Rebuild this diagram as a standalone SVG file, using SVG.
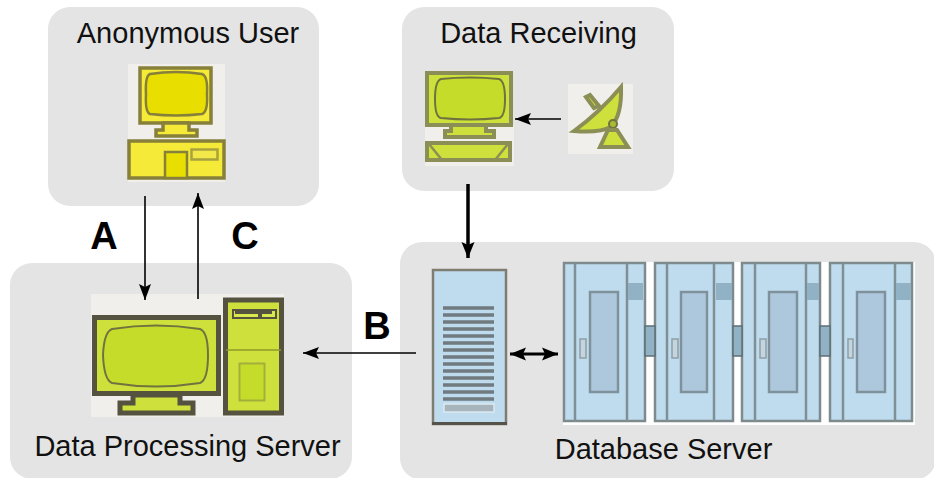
<svg xmlns="http://www.w3.org/2000/svg" width="934" height="478" viewBox="0 0 934 478">
<defs>
<marker id="ah" markerWidth="17" markerHeight="13" refX="16" refY="6.500" orient="auto-start-reverse" markerUnits="userSpaceOnUse"><path d="M0 0.500L16 6.500L0 12.500L3 6.500Z" fill="#000"/></marker>
<marker id="ahb" markerWidth="17" markerHeight="14" refX="16" refY="7" orient="auto-start-reverse" markerUnits="userSpaceOnUse"><path d="M0 0.500L16 7L0 13.500L3 7Z" fill="#000"/></marker>
<filter id="soft" x="-5%" y="-5%" width="110%" height="110%"><feGaussianBlur stdDeviation="0.7"/></filter>
</defs>
<style>
.panel{fill:#e4e4e4}
.t{font-family:"Liberation Sans",Arial,sans-serif;font-size:29px;fill:#111;text-anchor:middle}
.b{font-family:"Liberation Sans",Arial,sans-serif;font-size:38px;font-weight:700;fill:#000;text-anchor:middle}
.bg{fill:#f0efec}
.yl{fill:#f5ea38;stroke:#86803a;stroke-width:3.500}
.ys{fill:#e8de00;stroke:#86803a;stroke-width:2.500}
.gl{fill:#cde03a;stroke:#8c8f55;stroke-width:4}
.gs{fill:#c6dc2c;stroke:#6f7340;stroke-width:2}
.dk{fill:#cde03a;stroke:#55523f;stroke-width:5}
.c{fill:none;stroke:#000;stroke-width:1.600}
.cb{fill:#bfdcef;stroke:#7f8a8c;stroke-width:2.500}
.cl{fill:none;stroke:#7f8f96;stroke-width:2.500}
.ac{fill:#90b2c4}
.win{fill:#adc7dc;stroke:#7f929c;stroke-width:2.500}
.hd{fill:#c5d5df;stroke:#8f9ea6;stroke-width:1.500}
</style>
<g id="anonymous-user">
<rect class="panel" x="48" y="7" width="271" height="199" rx="22"/>
<g filter="url(#soft)">
<rect class="bg" x="128" y="64" width="97" height="118"/>
<rect class="yl" x="140" y="68" width="71" height="55"/>
<path class="ys" d="M150 74Q176 70 202 74Q208 76 207 94Q208 112 202 114Q176 117 150 114Q145 112 146 94Q145 76 150 74Z"/>
<path class="yl" d="M163 123H189V130H197V136H156V130H163Z"/>
<rect class="yl" x="129" y="141" width="95" height="37"/>
<rect class="ys" x="165" y="152" width="22" height="26"/>
<rect x="191.500" y="149.500" width="26" height="10" fill="#f2e84a" stroke="#a8a23e" stroke-width="2.500"/>
</g>
<text class="t" x="188" y="43">Anonymous User</text>
</g>
<g id="data-receiving">
<rect class="panel" x="402" y="7" width="272" height="184" rx="22"/>
<g filter="url(#soft)">
<rect class="bg" x="425" y="125" width="89" height="41"/>
<rect class="gl" x="427" y="73" width="84" height="52"/>
<path class="gs" d="M441 79Q470 76 499 79Q505 81 505 99Q505 117 499 118Q470 121 441 118Q435 117 435 99Q435 81 441 79Z"/>
<path class="gl" d="M451 125H486V131H494V137H445V131H451Z"/>
<rect class="gl" x="427" y="143" width="83" height="17"/>
<path d="M429 144L442 160M508 144L495 160" fill="none" stroke="#8c8f55" stroke-width="2.500"/>
<rect class="bg" x="568" y="84" width="65" height="70"/>
<path class="gl" d="M621 87Q622 115 611 127Q600 133 574 131Q600 112 621 87Z" stroke-width="3"/>
<path class="gl" d="M586 97L594 108L599 106L590 95Z" stroke-width="3"/>
<circle cx="613" cy="124" r="4" fill="#a9bb33" stroke="#6f7340" stroke-width="2"/>
<path class="gl" d="M608 130H617L628 147H600Z" stroke-width="3"/>
</g>
<text class="t" x="538.500" y="43">Data Receiving</text>
</g>
<g id="data-processing-server">
<rect class="panel" x="10" y="263" width="342" height="216" rx="22"/>
<g filter="url(#soft)">
<rect class="bg" x="91" y="294" width="193" height="123"/>
<rect class="dk" x="94.500" y="317.500" width="124" height="76"/>
<path class="gs" d="M112 329Q156 322 200 329Q208 332 208 355Q208 380 200 383Q156 390 112 383Q104 380 103 355Q104 332 112 329Z" stroke="#55523f"/>
<path class="dk" d="M133 395H180V403H193V413H120V403H133Z"/>
<rect class="dk" x="225.500" y="300" width="56" height="113"/>
<path d="M233 310H276V318H233Z" fill="#d8e84d" stroke="#55523f" stroke-width="2"/>
<path d="M235 311H272V314H262V318H258V314H235Z" fill="#55523f"/>
<path d="M226 350H281" stroke="#8e9a2d" stroke-width="1.500" fill="none"/>
<rect x="239.500" y="363.500" width="25" height="37" fill="#c6dc2c" stroke="#a2b03a" stroke-width="2"/>
</g>
<text class="t" x="187.500" y="456">Data Processing Server</text>
</g>
<g id="database-server">
<rect class="panel" x="400" y="242" width="536" height="238" rx="22"/>
<g filter="url(#soft)">
<rect x="433" y="270" width="73" height="154" fill="#bfdcef" stroke="#7f7d72" stroke-width="2.500"/>
<rect x="432" y="422" width="75" height="3" fill="#55524a"/>
<path d="M443 308H494M443 315H494M443 322H494M443 329H494M443 336H494M443 343H494M443 350H494M443 357H494M443 364H494M443 371H494M443 378H494M443 385H494M443 392H494M443 399H494" stroke="#6f7a7f" stroke-width="3.500" fill="none"/>
<rect x="444" y="404" width="50" height="8" fill="#a7b4bb" stroke="#dbe9f2" stroke-width="1.500"/>
<rect x="563" y="262" width="352" height="163" fill="#fff"/>
<rect class="cb" x="564" y="263" width="81" height="158"/>
<path class="cl" d="M575 263V421M627 263V421"/>
<rect class="ac" x="628" y="283" width="15" height="17"/>
<rect class="win" x="590" y="292" width="28" height="100"/>
<rect class="hd" x="580" y="339" width="6" height="19"/>
<rect class="cb" x="655" y="263" width="78" height="158"/>
<path class="cl" d="M667 263V421M714 263V421"/>
<rect class="ac" x="716" y="283" width="16" height="17"/>
<rect class="win" x="681" y="292" width="26" height="100"/>
<rect class="hd" x="672" y="339" width="6" height="19"/>
<rect class="cb" x="742" y="263" width="78" height="158"/>
<path class="cl" d="M755 263V421M806 263V421"/>
<rect class="ac" x="807" y="283" width="12" height="17"/>
<rect class="win" x="769" y="292" width="28" height="100"/>
<rect class="hd" x="760" y="339" width="6" height="19"/>
<rect class="cb" x="830" y="263" width="82" height="158"/>
<path class="cl" d="M843 263V421M895 263V421"/>
<rect class="ac" x="896" y="283" width="15" height="17"/>
<rect class="win" x="857" y="292" width="28" height="100"/>
<rect class="hd" x="848" y="339" width="5" height="19"/>
<path d="M645 326H655V356H645ZM733 326H742V356H733ZM820 326H830V356H820Z" fill="#90b2c4" stroke="#5f6f74" stroke-width="1.500"/>
</g>
<text class="t" x="663.500" y="459">Database Server</text>
</g>
<g id="connectors">
<path class="c" d="M145 196V300" marker-end="url(#ah)"/>
<path class="c" d="M198 299V193" marker-end="url(#ah)"/>
<path class="c" d="M561 119H515" marker-end="url(#ah)"/>
<path d="M468 184V258" fill="none" stroke="#000" stroke-width="3.500" marker-end="url(#ahb)"/>
<path class="c" d="M416 353H303" marker-end="url(#ah)"/>
<path d="M510 354H558" fill="none" stroke="#000" stroke-width="3" marker-start="url(#ahb)" marker-end="url(#ahb)"/>
</g>
<g id="labels">
<text class="b" x="104" y="249">A</text>
<text class="b" x="245" y="249">C</text>
<text class="b" x="377" y="339">B</text>
</g>
</svg>
